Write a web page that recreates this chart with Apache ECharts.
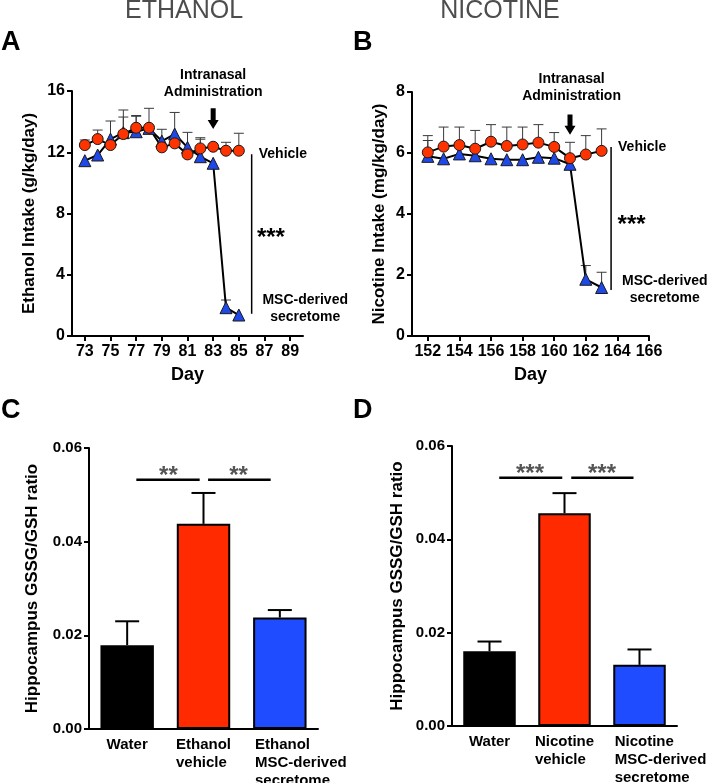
<!DOCTYPE html>
<html><head><meta charset="utf-8">
<script src="https://cdn.jsdelivr.net/npm/echarts@6/dist/echarts.min.js"></script>
<style>html,body{margin:0;padding:0;background:#fff}#c{width:709px;height:783px}</style>
</head><body><div id="c"></div>
<script>
const FONT = 'Liberation Sans, Arial, Helvetica, sans-serif';

// Panel A: ethanol intake
const daysA = [73, 74, 75, 76, 77, 78, 79, 80, 81, 82, 83, 84, 85];
const ethVehicle = [12.47, 12.86, 12.47, 13.19, 13.6, 13.6, 12.32, 12.58, 11.86, 12.25, 12.36, 12.1, 12.1];
const ethVehicleUpper = [12.8, 13.45, null, 14.3, 14.4, 14.87, 13.5, null, 13.3, 12.95, null, 12.65, 13.24];
const ethMSC = [11.45, 11.82, 12.86, 13.28, 13.34, 13.56, 12.73, 13.19, 12.32, 11.71, 11.28, 1.85, 1.37];
const ethMSCUpper = [null, null, 14.04, 14.76, 14.35, null, null, 14.6, null, 12.85, null, 2.35, null];
const ticksA = [73, 75, 77, 79, 81, 83, 85, 87, 89];

// Panel B: nicotine intake
const daysB = [152, 153, 154, 155, 156, 157, 158, 159, 160, 161, 162, 163];
const nicVehicle = [6.02, 6.21, 6.26, 6.14, 6.37, 6.23, 6.28, 6.34, 6.2, 5.83, 5.95, 6.07];
const nicVehicleUpper = [6.57, 6.85, 6.85, 6.74, 6.93, 6.85, 6.85, 6.93, 6.67, 6.35, 6.57, 6.79];
const nicMSC = [5.89, 5.81, 5.97, 5.91, 5.81, 5.78, 5.78, 5.86, 5.83, 5.63, 1.86, 1.59];
const nicMSCUpper = [6.41, null, null, null, null, null, null, null, null, null, 2.31, 2.09];
const ticksB = [152, 154, 156, 158, 160, 162, 164, 166];

// Panel C: ethanol GSSG/GSH
const catsC = ['Water', 'Ethanol\nvehicle', 'Ethanol\nMSC-derived\nsecretome'];
const valsC = [0.0179, 0.0438, 0.0238];
const upperC = [0.023, 0.0504, 0.0254];

// Panel D: nicotine GSSG/GSH
const catsD = ['Water', 'Nicotine\nvehicle', 'Nicotine\nMSC-derived\nsecretome'];
const valsD = [0.016, 0.0456, 0.0131];
const upperD = [0.0181, 0.0499, 0.0164];

const barColors = ['#000000', '#ff2a00', '#1f4cff'];
const RED = '#ff3300', BLUE = '#1f48e8';

const bold = (size) => ({ fontFamily: FONT, fontWeight: 'bold', fontSize: size, color: '#000' });

function valueX(idx, min, max, ticks) {
  return {
    type: 'value', gridIndex: idx, min: min, max: max,
    name: 'Day', nameLocation: 'middle', nameGap: 30,
    nameTextStyle: bold(18),
    axisLine: { show: true, onZero: false, lineStyle: { color: '#000', width: 2 } },
    axisTick: { show: true, length: 5, lineStyle: { color: '#000', width: 2 }, customValues: ticks },
    axisLabel: Object.assign(bold(16), { margin: 8, customValues: ticks }),
    splitLine: { show: false }
  };
}
function valueY(idx, max, interval, name, gap, size, fmt) {
  return {
    type: 'value', gridIndex: idx, min: 0, max: max, interval: interval,
    name: name, nameLocation: 'middle', nameGap: gap, nameRotate: 90,
    nameTextStyle: bold(size),
    axisLine: { show: true, lineStyle: { color: '#000', width: 2 } },
    axisTick: { show: true, length: 5, lineStyle: { color: '#000', width: 2 } },
    axisLabel: Object.assign(bold(fmt ? 15 : 16), { margin: 7, formatter: fmt || null }),
    splitLine: { show: false }
  };
}
function catX(idx, cats) {
  return {
    type: 'category', gridIndex: idx,
    data: cats.map((c, i) => i === 2 ? { value: c, textStyle: { padding: [0, 0, 0, 42] } } : c),
    axisLine: { show: true, lineStyle: { color: '#000', width: 2 } },
    axisTick: { show: false },
    axisLabel: {
      margin: 7, interval: 0,
      formatter: (v) => v.split('\n').map(s => '{l|' + s + '}').join('\n'),
      rich: { l: { align: 'left', fontFamily: FONT, fontWeight: 'bold', fontSize: 15, lineHeight: 18, color: '#000' } }
    },
    splitLine: { show: false }
  };
}

function pairs(xs, ys) { return xs.map((x, i) => [x, ys[i]]); }
function errData(xs, ys, ups) {
  const out = [];
  xs.forEach((x, i) => { if (ups[i] != null) out.push([x, ys[i], ups[i]]); });
  return out;
}

function lineErr(idx, data) {
  return {
    type: 'custom', xAxisIndex: idx, yAxisIndex: idx, data: data, z: 1,
    renderItem: (params, api) => {
      const p0 = api.coord([api.value(0), api.value(1)]);
      const p1 = api.coord([api.value(0), api.value(2)]);
      const st = { stroke: '#3a3a3a', lineWidth: 1 };
      return { type: 'group', children: [
        { type: 'line', shape: { x1: p0[0], y1: p0[1], x2: p1[0], y2: p1[1] }, style: st },
        { type: 'line', shape: { x1: p1[0] - 5, y1: p1[1], x2: p1[0] + 5, y2: p1[1] }, style: st }
      ] };
    }
  };
}
function barErr(idx, vals, ups) {
  return {
    type: 'custom', xAxisIndex: idx, yAxisIndex: idx, z: 3,
    data: vals.map((v, i) => [i, v, ups[i]]),
    renderItem: (params, api) => {
      const p0 = api.coord([api.value(0), api.value(1)]);
      const p1 = api.coord([api.value(0), api.value(2)]);
      const st = { stroke: '#000', lineWidth: 2 };
      return { type: 'group', children: [
        { type: 'line', shape: { x1: p0[0], y1: p0[1], x2: p1[0], y2: p1[1] }, style: st },
        { type: 'line', shape: { x1: p1[0] - 12, y1: p1[1], x2: p1[0] + 12, y2: p1[1] }, style: st }
      ] };
    }
  };
}
function lineSeries(idx, data, symbol, color, size) {
  return {
    type: 'line', xAxisIndex: idx, yAxisIndex: idx, data: data,
    symbol: symbol, symbolSize: size, showSymbol: true,
    lineStyle: { color: '#000', width: 2 },
    itemStyle: { color: color, borderColor: '#1a1a1a', borderWidth: 1 },
    emphasis: { disabled: true }, animation: false
  };
}
function barSeries(idx, vals) {
  return {
    type: 'bar', xAxisIndex: idx, yAxisIndex: idx, barWidth: '70%',
    data: vals.map((v, i) => ({ value: v, itemStyle: { color: barColors[i] } })),
    itemStyle: { borderColor: '#000', borderWidth: 2 },
    animation: false
  };
}

// annotation specs in data coordinates
const annA = {
  admin: [83, 16.49], arrow: [83, 14.87, 13.52], vline: [86, 1.45, 11.87],
  stars: [87.5, 6.4], vehicle: [86.55, 11.89], msc: [90.17, 1.81]
};
const annB = {
  admin: [161.1, 8.15], arrow: [161, 7.26, 6.6], vline: [163.6, 1.51, 6.2],
  stars: [164.9, 3.64], vehicle: [164.04, 6.2], msc: [167.0, 1.53]
};
function lineAnnot(idx, a) {
  return {
    type: 'custom', xAxisIndex: idx, yAxisIndex: idx, data: [[0, 0]], clip: false, z: 5,
    renderItem: (params, api) => {
      const t = (pt, text, size, align, lh) => {
        const p = api.coord(pt);
        return { type: 'text', x: p[0], y: p[1], style: { text: text, fontFamily: FONT, fontWeight: 'bold', fontSize: size, lineHeight: lh || size + 3, fill: '#000', align: align, verticalAlign: 'middle' } };
      };
      const top = api.coord([a.arrow[0], a.arrow[1]]);
      const tip = api.coord([a.arrow[0], a.arrow[2]]);
      const hx = tip[0], hh = 9;
      const arrow = { type: 'polygon', shape: { points: [
        [hx - 2.5, top[1]], [hx + 2.5, top[1]], [hx + 2.5, tip[1] - hh], [hx + 5.5, tip[1] - hh],
        [hx, tip[1]], [hx - 5.5, tip[1] - hh], [hx - 2.5, tip[1] - hh]
      ] }, style: { fill: '#000' } };
      const v0 = api.coord([a.vline[0], a.vline[1]]);
      const v1 = api.coord([a.vline[0], a.vline[2]]);
      return { type: 'group', children: [
        t(a.admin, 'Intranasal\nAdministration', 14, 'center', 17),
        arrow,
        { type: 'line', shape: { x1: v0[0], y1: v0[1], x2: v1[0], y2: v1[1] }, style: { stroke: '#000', lineWidth: 1.5 } },
        t(a.stars, '***', 24, 'center'),
        t(a.vehicle, 'Vehicle', 14, 'left'),
        t(a.msc, 'MSC-derived\nsecretome', 14, 'center', 17)
      ] };
    }
  };
}
// bracket ends given as [category index, fraction of band offset from its centre]
const sigC = { y: 0.0532, lines: [[[0, 0.12], [1, -0.05]], [[1, 0.06], [2, -0.12]]], starY: 0.0539, stars: [[0, 0.54], [1, 0.46]], text: '**' };
const sigD = { y: 0.0532, lines: [[[0, 0.13], [1, -0.03]], [[1, 0.09], [2, -0.08]]], starY: 0.0539, stars: [[0, 0.54], [1, 0.5]], text: '***' };
function barAnnot(idx, s) {
  return {
    type: 'custom', xAxisIndex: idx, yAxisIndex: idx, data: [[0, 0]], clip: false, z: 5,
    renderItem: (params, api) => {
      const band = api.size([1, 0])[0];
      const px = (c, y) => { const p = api.coord([c[0], y]); return [p[0] + c[1] * band, p[1]]; };
      const ch = [];
      s.lines.forEach(l => {
        const p0 = px(l[0], s.y), p1 = px(l[1], s.y);
        ch.push({ type: 'line', shape: { x1: p0[0], y1: p0[1], x2: p1[0], y2: p1[1] }, style: { stroke: '#000', lineWidth: 2.5 } });
      });
      s.stars.forEach(c => {
        const p = px(c, s.starY);
        ch.push({ type: 'text', x: p[0], y: p[1], style: { text: s.text, fontFamily: FONT, fontWeight: 'bold', fontSize: 24, fill: '#555', align: 'center', verticalAlign: 'middle' } });
      });
      return { type: 'group', children: ch };
    }
  };
}

const chart = echarts.init(document.getElementById('c'), null, { renderer: 'canvas' });
const fmt2 = (v) => v.toFixed(2);
chart.setOption({
  animation: false,
  backgroundColor: '#fff',
  grid: [
    { left: 72, top: 91, width: 231, height: 245, outerBoundsMode: 'none' },
    { left: 412, top: 92, width: 237, height: 244, outerBoundsMode: 'none' },
    { left: 89, top: 448, width: 229, height: 281, outerBoundsMode: 'none' },
    { left: 452, top: 446, width: 225, height: 280, outerBoundsMode: 'none' }
  ],
  xAxis: [
    valueX(0, 72, 90, ticksA),
    valueX(1, 151, 166, ticksB),
    catX(2, catsC),
    catX(3, catsD)
  ],
  yAxis: [
    valueY(0, 16, 4, 'Ethanol Intake (g/kg/day)', 34, 17),
    valueY(1, 8, 2, 'Nicotine Intake (mg/kg/day)', 24, 17),
    valueY(2, 0.06, 0.02, 'Hippocampus GSSG/GSH ratio', 48, 17, fmt2),
    valueY(3, 0.06, 0.02, 'Hippocampus GSSG/GSH ratio', 46, 17, fmt2)
  ],
  graphic: [
    { type: 'text', x: 184, y: 11, style: { text: 'ETHANOL', fontFamily: FONT, fontSize: 25, fill: '#4d4d4d', align: 'center', verticalAlign: 'middle' } },
    { type: 'text', x: 500, y: 11, style: { text: 'NICOTINE', fontFamily: FONT, fontSize: 25, fill: '#4d4d4d', align: 'center', verticalAlign: 'middle' } },
    { type: 'text', x: 1, y: 43, style: { text: 'A', fontFamily: FONT, fontWeight: 'bold', fontSize: 27, fill: '#000', verticalAlign: 'middle' } },
    { type: 'text', x: 353, y: 43, style: { text: 'B', fontFamily: FONT, fontWeight: 'bold', fontSize: 27, fill: '#000', verticalAlign: 'middle' } },
    { type: 'text', x: 1, y: 411, style: { text: 'C', fontFamily: FONT, fontWeight: 'bold', fontSize: 27, fill: '#000', verticalAlign: 'middle' } },
    { type: 'text', x: 353, y: 411, style: { text: 'D', fontFamily: FONT, fontWeight: 'bold', fontSize: 27, fill: '#000', verticalAlign: 'middle' } }
  ],
  series: [
    lineErr(0, errData(daysA, ethMSC, ethMSCUpper)),
    lineErr(0, errData(daysA, ethVehicle, ethVehicleUpper)),
    lineSeries(0, pairs(daysA, ethMSC), 'triangle', BLUE, 12),
    lineSeries(0, pairs(daysA, ethVehicle), 'circle', RED, 11),
    lineAnnot(0, annA),
    lineErr(1, errData(daysB, nicMSC, nicMSCUpper)),
    lineErr(1, errData(daysB, nicVehicle, nicVehicleUpper)),
    lineSeries(1, pairs(daysB, nicMSC), 'triangle', BLUE, 12),
    lineSeries(1, pairs(daysB, nicVehicle), 'circle', RED, 11),
    lineAnnot(1, annB),
    barSeries(2, valsC), barErr(2, valsC, upperC), barAnnot(2, sigC),
    barSeries(3, valsD), barErr(3, valsD, upperD), barAnnot(3, sigD)
  ]
});
</script></body></html>
